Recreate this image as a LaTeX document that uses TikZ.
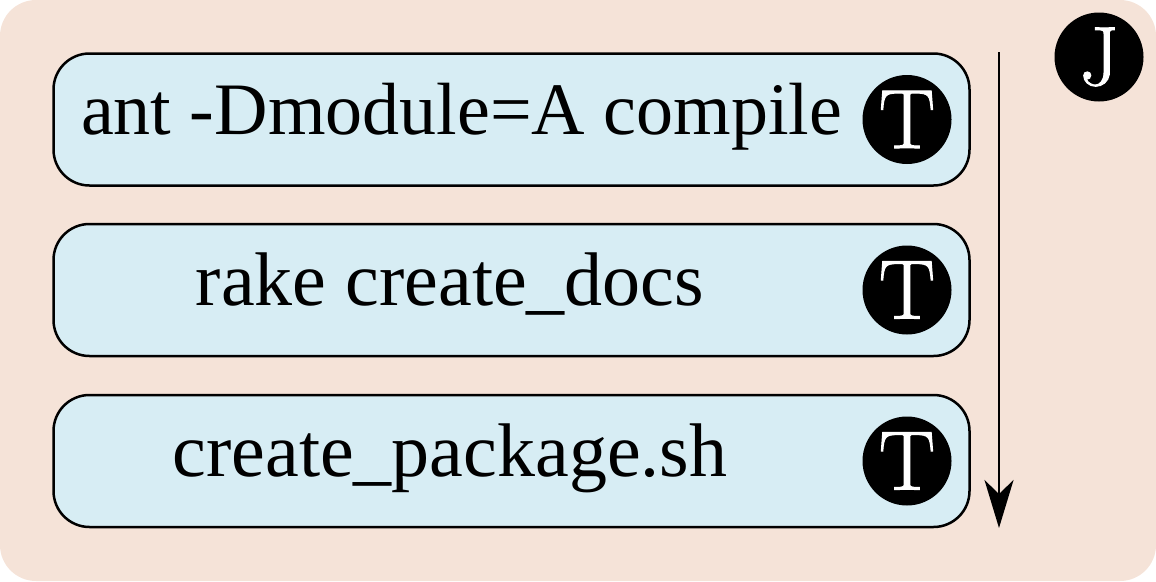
\documentclass[tikz,border=0pt]{standalone}
\usepackage{fontspec}
\setmainfont{Liberation Serif}
\newfontfamily\badgefont[FakeBold=1.2]{Latin Modern Roman}
\usepackage{xcolor}
\usetikzlibrary{positioning,arrows.meta}
\definecolor{jobfill}{HTML}{F5E3D8}
\definecolor{taskfill}{HTML}{D7EDF4}
\tikzset{
    taskbox/.style={draw, line width=2.5pt, fill=taskfill, rounded corners=36pt, minimum width=916pt, minimum height=132pt, inner sep=0pt},
    tasklabel/.style={anchor=base, inner sep=0pt, font=\fontsize{76}{76}\selectfont},
    badge/.style={circle, fill=black, text=white, minimum size=89pt, inner sep=0pt, font=\badgefont\fontsize{84}{84}\selectfont},
}
\begin{document}
\begin{tikzpicture}[x=1pt,y=-1pt]
    \useasboundingbox (0,0) rectangle (1156,581);
    \fill[jobfill, rounded corners=36pt] (0,0) rectangle (1156,581);
    \node[taskbox] (first) at (511.5,119.5) {};
    \node[taskbox] (second) at (511.5,290) {};
    \node[taskbox] (third) at (511.5,461) {};
    \node[tasklabel, font=\fontsize{74}{74}\selectfont] (firstlabel) at (461.5,134) {ant -Dmodule=A compile};
    \node[tasklabel] (secondlabel) at (450,305) {rake create\_docs};
    \node[tasklabel] (thirdlabel) at (450,476) {create\_package.sh};
    \node[badge] (firsttask) at (907,119.5) {T};
    \node[badge] (secondtask) at (907,290) {T};
    \node[badge] (thirdtask) at (907,461) {T};
    \node[badge] (job) at (1099,57) {J};
    \coordinate (top) at (999,52);
    \coordinate (bottom) at (999,528);
    \draw[line width=2.5pt, -{Stealth[length=48pt,width=29pt,inset=14pt]}] (top) -- (bottom);
\end{tikzpicture}
\end{document}
